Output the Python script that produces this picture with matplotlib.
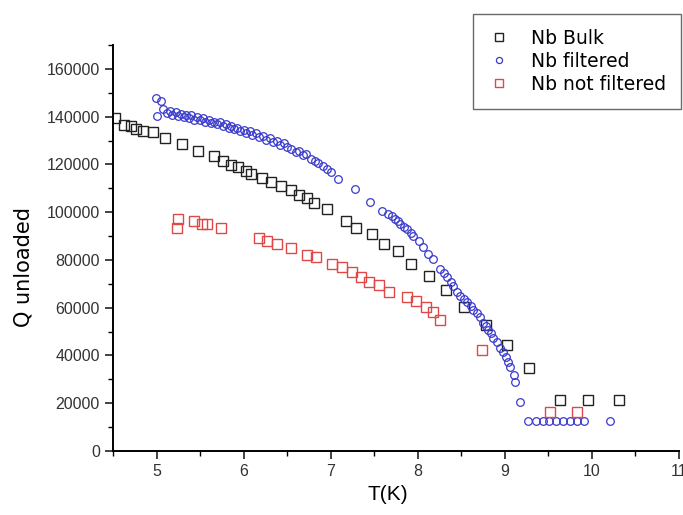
import numpy as np
import matplotlib
matplotlib.use("Agg")
import matplotlib.pyplot as plt
from matplotlib.ticker import MultipleLocator

plt.rcParams["font.family"] = ["Liberation Sans", "DejaVu Sans"]

# ---- measured unloaded Q vs temperature ----
T_bulk = [4.52, 4.63, 4.71, 4.76, 4.85, 4.96, 5.10, 5.29, 5.48, 5.66, 5.76, 5.85,
          5.94, 6.03, 6.09, 6.21, 6.32, 6.43, 6.54, 6.64, 6.73, 6.81, 6.96, 7.18,
          7.29, 7.48, 7.61, 7.77, 7.92, 8.13, 8.33, 8.53, 8.78, 9.03, 9.28, 9.63,
          9.96, 10.31]
Q_bulk = [139400, 136500, 136100, 134800, 134000, 133600, 131000, 128500, 125600,
          123500, 121400, 119700, 118900, 117200, 115900, 114200, 112600, 110900,
          109200, 107100, 105800, 103700, 101200, 96200, 93200, 90700, 86500, 83600,
          78100, 73100, 67600, 60500, 52900, 44500, 34900, 21500, 21500, 21500]

T_filt = [4.99, 5.05, 5.01, 5.08, 5.12, 5.15, 5.18, 5.22, 5.25, 5.28, 5.31, 5.34,
          5.37, 5.40, 5.43, 5.46, 5.50, 5.53, 5.56, 5.60, 5.63, 5.66, 5.70, 5.73,
          5.76, 5.80, 5.83, 5.86, 5.89, 5.92, 5.96, 6.00, 6.03, 6.07, 6.10, 6.14,
          6.18, 6.22, 6.26, 6.30, 6.34, 6.38, 6.42, 6.46, 6.50, 6.55, 6.60, 6.64,
          6.68, 6.72, 6.77, 6.82, 6.86, 6.91, 6.96, 7.00, 7.09, 7.28, 7.45, 7.59,
          7.66, 7.70, 7.74, 7.77, 7.80, 7.84, 7.88, 7.92, 7.95, 8.01, 8.06, 8.12,
          8.18, 8.26, 8.30, 8.34, 8.38, 8.41, 8.45, 8.49, 8.53, 8.57, 8.61, 8.64,
          8.68, 8.72, 8.75, 8.78, 8.81, 8.84, 8.87, 8.91, 8.95, 8.98, 9.01, 9.04,
          9.06, 9.10, 9.12, 9.18, 9.27, 9.36, 9.44, 9.51, 9.59, 9.67, 9.75, 9.83,
          9.91, 10.21]
Q_filt = [147800, 146600, 140300, 143200, 141500, 142400, 140800, 141900, 140200,
          141300, 139900, 140800, 139300, 140500, 138800, 139700, 138600, 139300,
          137900, 138500, 137200, 137900, 136900, 137600, 135900, 136800, 135200,
          136100, 134700, 135300, 133900, 134400, 133200, 133900, 132400, 133100,
          131500, 132000, 130400, 131100, 129400, 130000, 128300, 128900, 127200,
          126600, 125200, 125800, 123800, 124300, 122200, 121400, 120600, 119500,
          118000, 116800, 113800, 109600, 104200, 100400, 99100, 98300, 97000, 96200,
          94900, 93900, 92800, 91200, 89900, 87800, 85300, 82300, 80200, 76000, 74400,
          72700, 70700, 68900, 66600, 64700, 63500, 62200, 60700, 59200, 57800, 56300,
          53800, 52500, 50800, 49300, 47500, 45500, 43300, 41600, 39500, 37300, 35300,
          31900, 29000, 20600, 12500, 12500, 12500, 12500, 12500, 12500, 12500, 12500,
          12500, 12500]

T_nofilt = [5.25, 5.24, 5.43, 5.52, 5.58, 5.74, 6.18, 6.27, 6.38, 6.54, 6.73, 6.83,
            7.02, 7.13, 7.25, 7.35, 7.44, 7.56, 7.67, 7.88, 7.98, 8.10, 8.17, 8.25,
            8.74, 9.52, 9.83]
Q_nofilt = [97000, 93200, 96200, 94900, 94900, 93200, 89000, 87800, 86500, 84800,
            81900, 81100, 78100, 76900, 74800, 72700, 70600, 69700, 66400, 64300,
            62600, 60100, 58000, 55000, 42400, 16400, 16400]

C_BULK, C_FILT, C_NOFILT = "#222222", "#3a3acc", "#e04848"

fig = plt.figure(figsize=(6.83, 5.15), dpi=100)
ax = fig.add_axes([0.1654, 0.1243, 0.8287, 0.7883])

ax.plot(T_bulk, Q_bulk, "s", ms=7, mfc="none", mec=C_BULK, mew=1.0, label="Nb Bulk")
ax.plot(T_filt, Q_filt, "o", ms=5.5, mfc="none", mec=C_FILT, mew=0.9, label="Nb filtered")
ax.plot(T_nofilt, Q_nofilt, "s", ms=6.8, mfc="none", mec=C_NOFILT, mew=1.0,
        label="Nb not filtered")

ax.set_xlim(4.5, 11)
ax.set_ylim(0, 170000)
ax.xaxis.set_minor_locator(MultipleLocator(0.5))
ax.yaxis.set_minor_locator(MultipleLocator(10000))
ax.set_yticks([0, 20000, 40000, 60000, 80000, 100000, 120000, 140000, 160000])
ax.set_xticks([5, 6, 7, 8, 9, 10, 11])

for s in ("top", "right"):
    ax.spines[s].set_visible(False)
for s in ("left", "bottom"):
    ax.spines[s].set_linewidth(1.4)
ax.tick_params(which="major", direction="out", length=6, width=1.2, labelsize=11.5,
               colors="#222222", labelcolor="#333333")
ax.tick_params(which="minor", direction="out", length=3.5, width=1.0)

ax.set_xlabel("T(K)", fontsize=15)
ax.set_ylabel("Q unloaded", fontsize=15, family="DejaVu Sans")
ax.xaxis.set_label_coords(0.486, -0.083)
ax.yaxis.set_label_coords(-0.14, 0.453)

leg = fig.legend(loc="upper right", bbox_to_anchor=(681 / 683, 1 - 14 / 515),
                 borderaxespad=0, prop={"family": "DejaVu Sans", "size": 13.5},
                 frameon=True, fancybox=False, handletextpad=1.1, borderpad=0.8,
                 labelspacing=0.2, handlelength=1.2, markerscale=0.8)
leg.get_frame().set_edgecolor("#444444")
leg.get_frame().set_linewidth(1.0)

fig.savefig("out.png", dpi=100)
